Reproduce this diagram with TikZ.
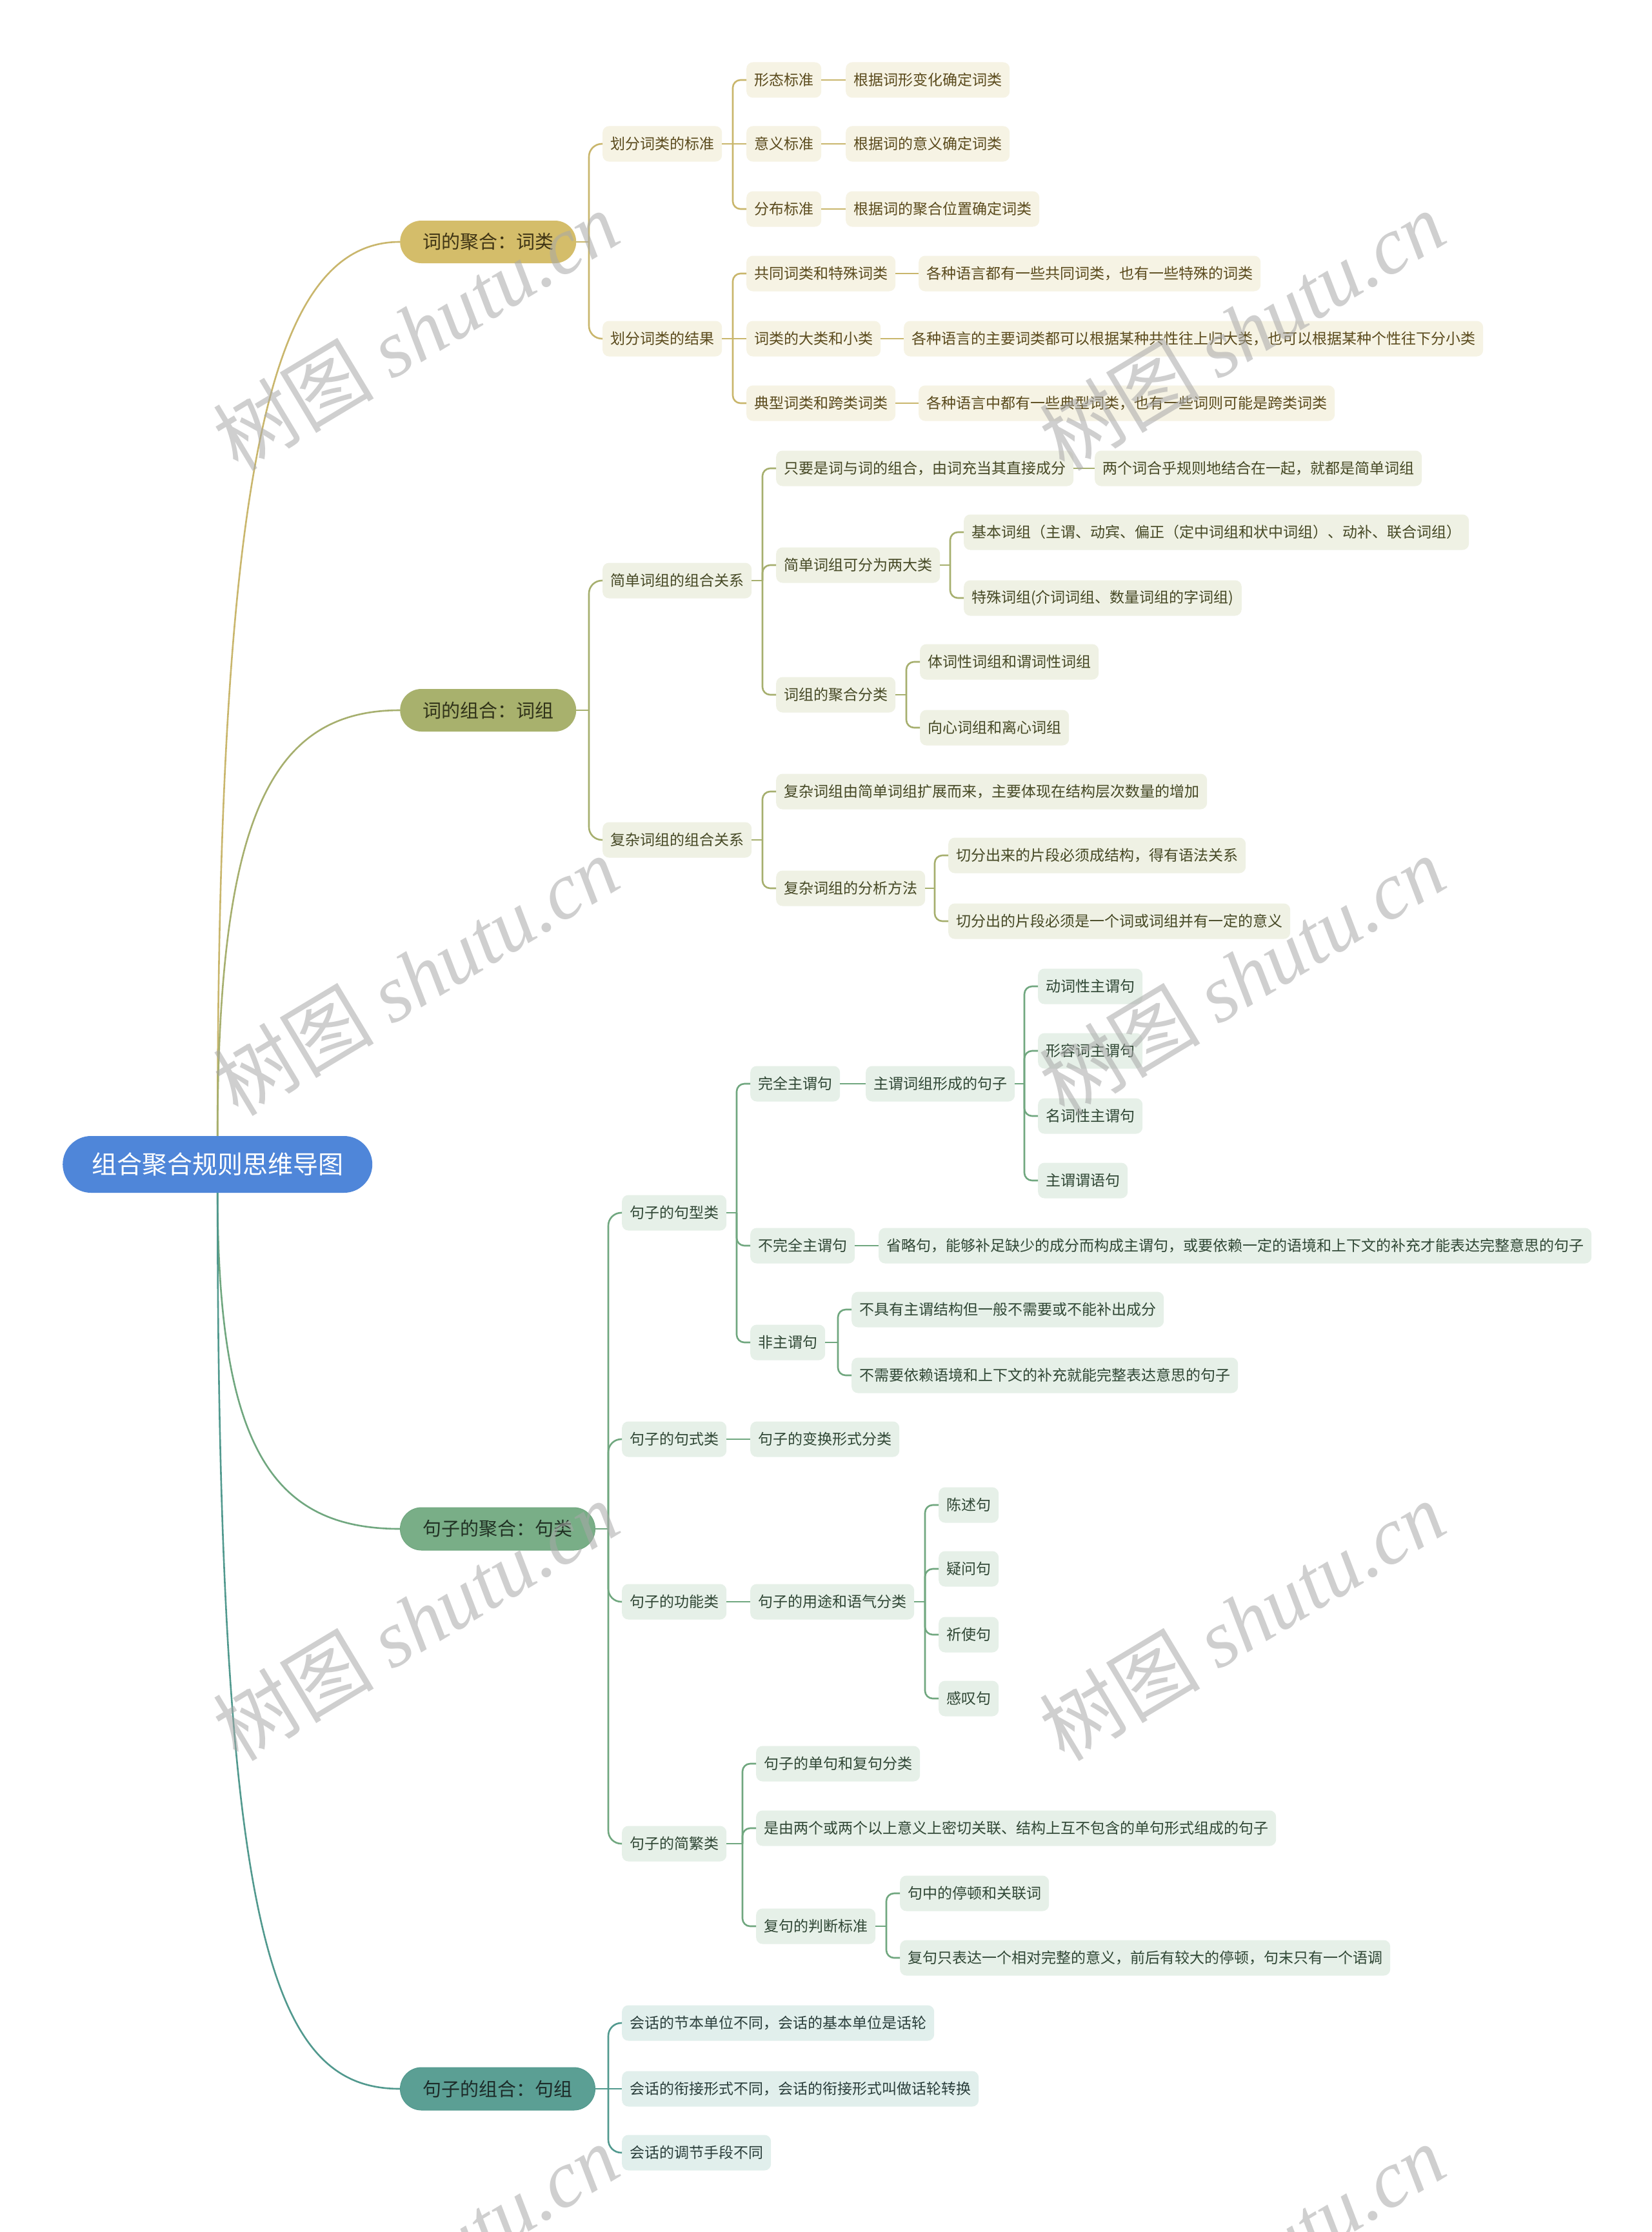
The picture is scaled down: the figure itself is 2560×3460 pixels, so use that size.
\documentclass[tikz,border=0pt]{standalone}
\usepackage{fontspec}
\setmainfont{Noto Sans CJK SC}
\newfontfamily\wmlatin{Liberation Serif}
\usetikzlibrary{calc}
\definecolor{rootc}{HTML}{4F86D9}
\definecolor{c1}{HTML}{D4BD6A}\definecolor{c1l}{HTML}{C9B66C}\definecolor{c1f}{HTML}{F6F3E4}\definecolor{c1t}{HTML}{5A4A1C}
\definecolor{c2}{HTML}{A8B16D}\definecolor{c2l}{HTML}{A6AF6E}\definecolor{c2f}{HTML}{EFF1E4}\definecolor{c2t}{HTML}{454824}
\definecolor{c3}{HTML}{79AE87}\definecolor{c3l}{HTML}{70A77F}\definecolor{c3f}{HTML}{E6F0E8}\definecolor{c3t}{HTML}{2F4634}
\definecolor{c4}{HTML}{5B9F94}\definecolor{c4l}{HTML}{51998E}\definecolor{c4f}{HTML}{E1EFEC}\definecolor{c4t}{HTML}{2A3E3B}
\definecolor{wm}{HTML}{A8A8A8}
\tikzset{
  leaf/.style={anchor=west, rounded corners=10, minimum height=55, inner xsep=12, inner ysep=0, font=\fontsize{23}{27}\selectfont},
  b1/.style={leaf, fill=c1f, text=c1t},
  b2/.style={leaf, fill=c2f, text=c2t},
  b3/.style={leaf, fill=c3f, text=c3t},
  b4/.style={leaf, fill=c4f, text=c4t},
  topn/.style={anchor=west, rounded corners=33, minimum height=66, inner xsep=35, inner ysep=0, font=\fontsize{29}{33}\selectfont},
  rootn/.style={anchor=west, rounded corners=44, minimum height=88, inner xsep=45, inner ysep=0, fill=rootc, text=white, font=\fontsize{39}{44}\selectfont},
  e1/.style={draw=c1l, line width=2.6},
  e2/.style={draw=c2l, line width=2.6},
  e3/.style={draw=c3l, line width=2.6},
  e4/.style={draw=c4l, line width=2.6},
  wmark/.style={text=wm, opacity=0.55, rotate=31, font=\fontsize{125}{130}\selectfont}
}
\newcommand\lnk[4][12]{%
  \path (#4.west) ++(-21,0) coordinate (T);
  \draw[#2] (#3.east) -- (#3.east -| T);
  \draw[#2, rounded corners=#1] (#3.east -| T) |- (#4.west);}
\newcommand\lnks[3]{\draw[#1] (#2.east) -- (#3.west);}
\begin{document}
\begin{tikzpicture}[x=1pt,y=-1pt]
\fill[white] (0,0) rectangle (2560,3460);
\useasboundingbox (0,0) rectangle (2560,3460);

% root
\node[rootn] (R) at (97,1805) {组合聚合规则思维导图};

% branch 1
\node[topn, fill=c1, text=c1t!70!black] (A) at (620,375) {词的聚合：词类};
\node[b1] (A1) at (934,223) {划分词类的标准};
\node[b1] (A2) at (934,525) {划分词类的结果};
\node[b1] (A11) at (1157,124) {形态标准};
\node[b1] (A12) at (1157,223) {意义标准};
\node[b1] (A13) at (1157,324) {分布标准};
\node[b1] (A111) at (1311,124) {根据词形变化确定词类};
\node[b1] (A121) at (1311,223) {根据词的意义确定词类};
\node[b1] (A131) at (1311,324) {根据词的聚合位置确定词类};
\node[b1] (A21) at (1157,424) {共同词类和特殊词类};
\node[b1] (A22) at (1157,525) {词类的大类和小类};
\node[b1] (A23) at (1157,625) {典型词类和跨类词类};
\node[b1] (A211) at (1424,424) {各种语言都有一些共同词类，也有一些特殊的词类};
\node[b1] (A221) at (1401,525) {各种语言的主要词类都可以根据某种共性往上归大类，也可以根据某种个性往下分小类};
\node[b1] (A231) at (1424,625) {各种语言中都有一些典型词类，也有一些词则可能是跨类词类};

% branch 2
\node[topn, fill=c2, text=c2t!70!black] (B) at (620,1101) {词的组合：词组};
\node[b2] (B1) at (934,900) {简单词组的组合关系};
\node[b2] (B2) at (934,1302) {复杂词组的组合关系};
\node[b2] (B11) at (1203,726) {只要是词与词的组合，由词充当其直接成分};
\node[b2] (B111) at (1697,726) {两个词合乎规则地结合在一起，就都是简单词组};
\node[b2] (B12) at (1203,876) {简单词组可分为两大类};
\node[b2] (B121) at (1494,825) {基本词组（主谓、动宾、偏正（定中词组和状中词组）、动补、联合词组）};
\node[b2] (B122) at (1494,927) {特殊词组(介词词组、数量词组的字词组)};
\node[b2] (B13) at (1203,1077) {词组的聚合分类};
\node[b2] (B131) at (1426,1026) {体词性词组和谓词性词组};
\node[b2] (B132) at (1426,1128) {向心词组和离心词组};
\node[b2] (B21) at (1203,1227) {复杂词组由简单词组扩展而来，主要体现在结构层次数量的增加};
\node[b2] (B22) at (1203,1377) {复杂词组的分析方法};
\node[b2] (B221) at (1470,1326) {切分出来的片段必须成结构，得有语法关系};
\node[b2] (B222) at (1470,1428) {切分出的片段必须是一个词或词组并有一定的意义};

% branch 3
\node[topn, fill=c3, draw=c3l, line width=1, text=c3t!70!black] (C) at (620,2370) {句子的聚合：句类};
\node[b3] (C1) at (964,1880) {句子的句型类};
\node[b3] (C11) at (1163,1680) {完全主谓句};
\node[b3] (C111) at (1342,1680) {主谓词组形成的句子};
\node[b3] (C1111) at (1609,1529) {动词性主谓句};
\node[b3] (C1112) at (1609,1629) {形容词主谓句};
\node[b3] (C1113) at (1609,1730) {名词性主谓句};
\node[b3] (C1114) at (1609,1830) {主谓谓语句};
\node[b3] (C12) at (1163,1931) {不完全主谓句};
\node[b3] (C121) at (1362,1931) {省略句，能够补足缺少的成分而构成主谓句，或要依赖一定的语境和上下文的补充才能表达完整意思的句子};
\node[b3] (C13) at (1163,2081) {非主谓句};
\node[b3] (C131) at (1320,2030) {不具有主谓结构但一般不需要或不能补出成分};
\node[b3] (C132) at (1320,2132) {不需要依赖语境和上下文的补充就能完整表达意思的句子};
\node[b3] (C2) at (964,2231) {句子的句式类};
\node[b3] (C21) at (1163,2231) {句子的变换形式分类};
\node[b3] (C3) at (964,2483) {句子的功能类};
\node[b3] (C31) at (1163,2483) {句子的用途和语气分类};
\node[b3] (C311) at (1455,2333) {陈述句};
\node[b3] (C312) at (1455,2432) {疑问句};
\node[b3] (C313) at (1455,2534) {祈使句};
\node[b3] (C314) at (1455,2633) {感叹句};
\node[b3] (C4) at (964,2858) {句子的简繁类};
\node[b3] (C41) at (1172,2734) {句子的单句和复句分类};
\node[b3] (C42) at (1172,2834) {是由两个或两个以上意义上密切关联、结构上互不包含的单句形式组成的句子};
\node[b3] (C43) at (1172,2986) {复句的判断标准};
\node[b3] (C431) at (1395,2935) {句中的停顿和关联词};
\node[b3] (C432) at (1395,3035) {复句只表达一个相对完整的意义，前后有较大的停顿，句末只有一个语调};

% branch 4
\node[topn, fill=c4, draw=c4l, line width=1, text=c4t!70!black] (D) at (620,3238) {句子的组合：句组};
\node[b4] (D1) at (964,3136) {会话的节本单位不同，会话的基本单位是话轮};
\node[b4] (D2) at (964,3238) {会话的衔接形式不同，会话的衔接形式叫做话轮转换};
\node[b4] (D3) at (964,3337) {会话的调节手段不同};

% root connectors
\draw[e1] (R.north) .. controls (338,720) and (420,375) .. (A.west);
\draw[e2] (R.north) .. controls (338,1266) and (420,1101) .. (B.west);
\draw[e3] (R.south) .. controls (338,2240) and (420,2370) .. (C.west);
\draw[e4] (R.south) .. controls (338,3000) and (420,3238) .. (D.west);

% branch 1 links
\lnk[20]{e1}{A}{A1}\lnk[20]{e1}{A}{A2}
\lnk{e1}{A1}{A11}\lnks{e1}{A1}{A12}\lnk{e1}{A1}{A13}
\lnks{e1}{A11}{A111}\lnks{e1}{A12}{A121}\lnks{e1}{A13}{A131}
\lnk{e1}{A2}{A21}\lnks{e1}{A2}{A22}\lnk{e1}{A2}{A23}
\lnks{e1}{A21}{A211}\lnks{e1}{A22}{A221}\lnks{e1}{A23}{A231}

% branch 2 links
\lnk[20]{e2}{B}{B1}\lnk[20]{e2}{B}{B2}
\lnk{e2}{B1}{B11}\lnk{e2}{B1}{B12}\lnk{e2}{B1}{B13}
\lnks{e2}{B11}{B111}
\lnk{e2}{B12}{B121}\lnk{e2}{B12}{B122}
\lnk{e2}{B13}{B131}\lnk{e2}{B13}{B132}
\lnk{e2}{B2}{B21}\lnk{e2}{B2}{B22}
\lnk{e2}{B22}{B221}\lnk{e2}{B22}{B222}

% branch 3 links
\lnk[20]{e3}{C}{C1}\lnk[20]{e3}{C}{C2}\lnk[20]{e3}{C}{C3}\lnk[20]{e3}{C}{C4}
\lnk{e3}{C1}{C11}\lnk{e3}{C1}{C12}\lnk{e3}{C1}{C13}
\lnks{e3}{C11}{C111}
\lnk{e3}{C111}{C1111}\lnk{e3}{C111}{C1112}\lnk{e3}{C111}{C1113}\lnk{e3}{C111}{C1114}
\lnks{e3}{C12}{C121}
\lnk{e3}{C13}{C131}\lnk{e3}{C13}{C132}
\lnks{e3}{C2}{C21}
\lnks{e3}{C3}{C31}
\lnk{e3}{C31}{C311}\lnk{e3}{C31}{C312}\lnk{e3}{C31}{C313}\lnk{e3}{C31}{C314}
\lnk{e3}{C4}{C41}\lnk{e3}{C4}{C42}\lnk{e3}{C4}{C43}
\lnk{e3}{C43}{C431}\lnk{e3}{C43}{C432}

% branch 4 links
\lnk[20]{e4}{D}{D1}\lnks{e4}{D}{D2}\lnk[20]{e4}{D}{D3}

% watermarks
\foreach \wx/\wy [count=\i] in {644/512,1925/512,644/1512,1925/1512,644/2512,1925/2512,644/3509,1925/3509}{
  \node[wmark] (W\i) at (\wx,\wy) {树图 {\wmlatin\itshape shutu.cn}};
}
\end{tikzpicture}
\end{document}
